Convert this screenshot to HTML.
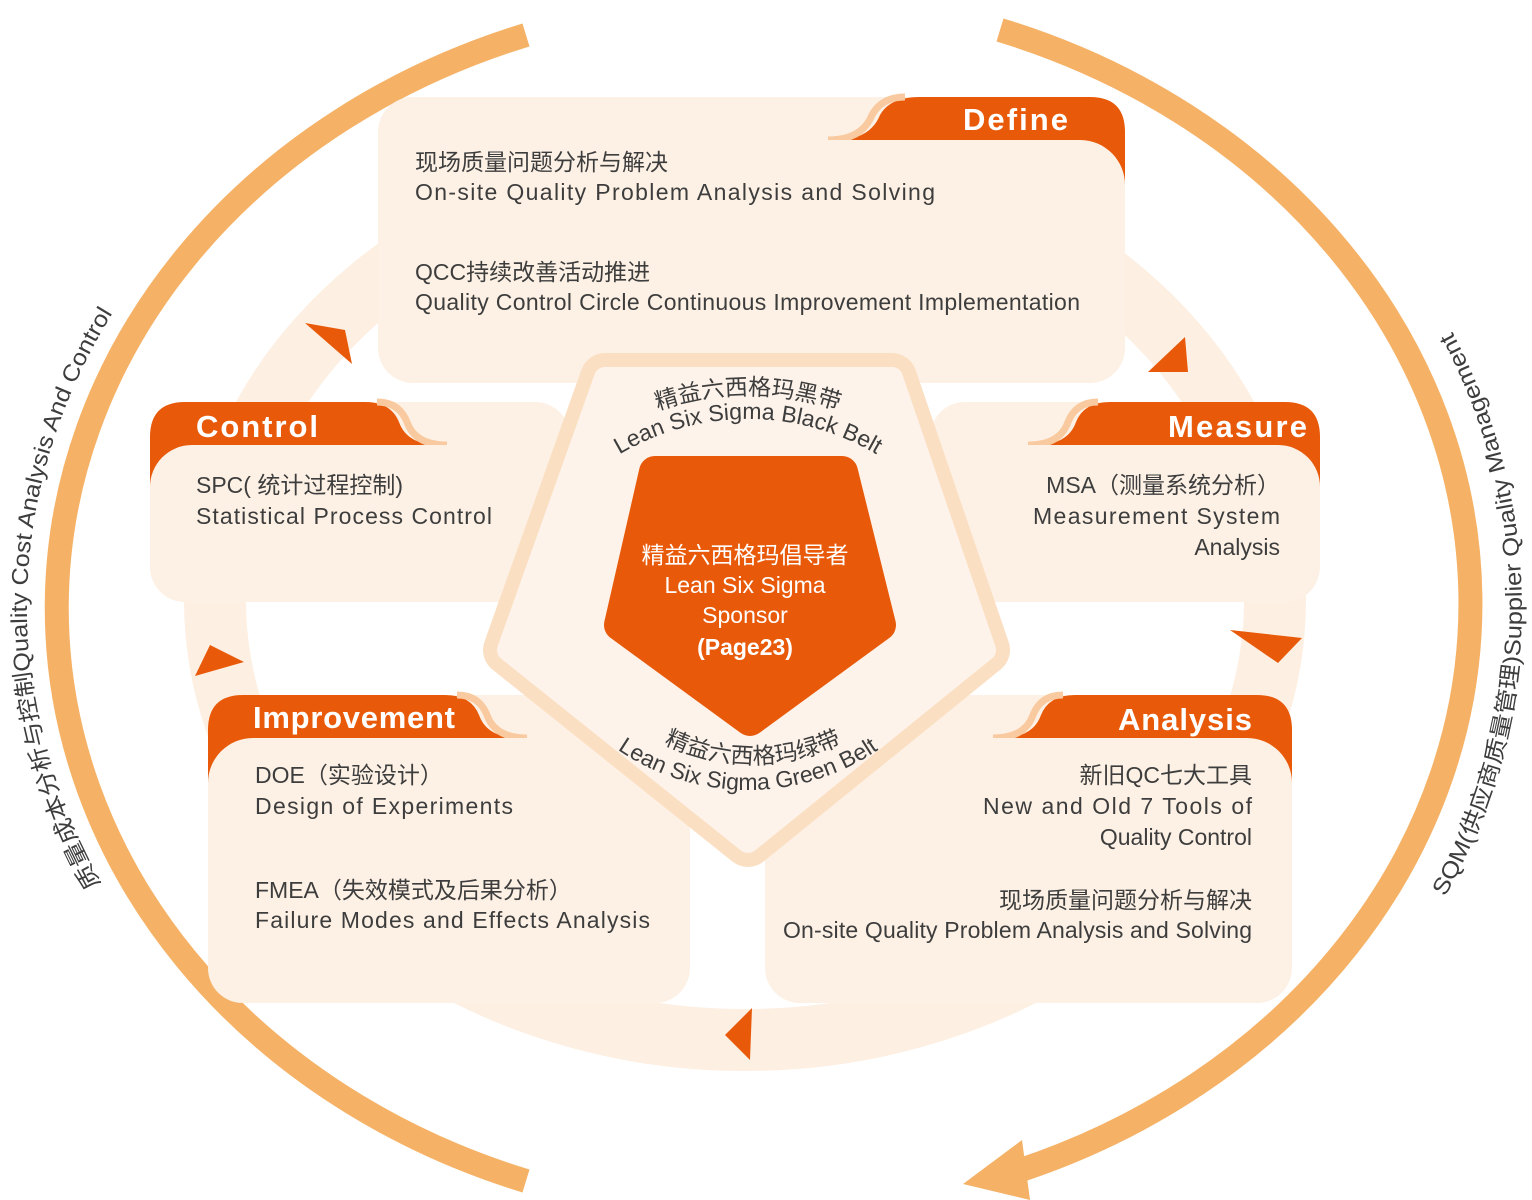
<!DOCTYPE html>
<html><head><meta charset="utf-8"><style>
html,body{margin:0;padding:0;background:#fff;}
svg{display:block;}
.t{font-family:"Liberation Sans","Noto Sans CJK SC",sans-serif;fill:#3d3d3d;font-size:23px;}
.h{font-family:"Liberation Sans","Noto Sans CJK SC",sans-serif;fill:#fff;font-size:31px;font-weight:bold;}
.w{font-family:"Liberation Sans","Noto Sans CJK SC",sans-serif;fill:#fff;font-size:23px;}
</style></head><body>
<svg width="1532" height="1200" viewBox="0 0 1532 1200" xmlns="http://www.w3.org/2000/svg">
<defs>
<path id="lp" d="M 101 884 A 735 630 0 0 1 139 274"/>
<path id="rp" d="M 1445 897 A 760 660 0 0 0 1433 298"/>
<path id="bk1" d="M 473 670 A 275 275 0 0 1 1023 670"/>
<path id="bk2" d="M 497 670 A 251 251 0 0 1 999 670"/>
<path id="gr1" d="M 548 559 A 205 205 0 0 0 958 559"/>
<path id="gr2" d="M 517 559 A 231 231 0 0 0 979 559"/>
</defs>

<!-- outer arcs -->
<path d="M 526 35 A 705 608 0 0 0 526 1181" fill="none" stroke="#f5b266" stroke-width="24"/>
<path d="M 1000 30 A 705 608 0 0 1 1015 1172" fill="none" stroke="#f5b266" stroke-width="24"/>
<polygon points="963,1184 1022,1140 1030,1200" fill="#f5b266"/>

<text class="t" font-size="24"><textPath href="#lp" textLength="600" lengthAdjust="spacingAndGlyphs">质量成本分析与控制Quality Cost Analysis And Control</textPath></text>
<text class="t" font-size="24"><textPath href="#rp" textLength="590" lengthAdjust="spacingAndGlyphs">SQM(供应商质量管理)Supplier Quality Management</textPath></text>

<!-- connector ring -->
<ellipse cx="745" cy="600" rx="530" ry="440" fill="none" stroke="#fdefe2" stroke-width="62"/>

<!-- Define box -->
<rect x="378" y="97" width="747" height="286" rx="35" fill="#fdf1e5"/>
<path d="M 835 140 Q 870 140 880 115 Q 890 97 920 97 L 1090 97 Q 1125 97 1125 132 L 1125 190 L 835 190 Z" fill="#e85a0a"/>
<path d="M 828 140 Q 862 140 872 115 Q 882 97 905 97" fill="none" stroke="#f9caa0" stroke-width="7"/>
<rect x="378" y="140" width="747" height="243" rx="45" fill="#fdf1e5"/>
<text class="h" x="963" y="130" textLength="105">Define</text>
<text class="t" x="415" y="170">现场质量问题分析与解决</text>
<text class="t" x="415" y="200" textLength="520">On-site Quality Problem Analysis and Solving</text>
<text class="t" x="415" y="280">QCC持续改善活动推进</text>
<text class="t" x="415" y="310" textLength="665">Quality Control Circle Continuous Improvement Implementation</text>

<!-- Measure box -->
<rect x="930" y="402" width="390" height="200" rx="35" fill="#fdf1e5"/>
<path d="M 1035 445 Q 1068 445 1076 422 Q 1084 402 1110 402 L 1285 402 Q 1320 402 1320 437 L 1320 490 L 1035 490 Z" fill="#e85a0a"/>
<path d="M 1028 445 Q 1060 445 1068 422 Q 1076 402 1098 402" fill="none" stroke="#f9caa0" stroke-width="7"/>
<rect x="930" y="445" width="390" height="157" rx="42" fill="#fdf1e5"/>
<text class="h" x="1168" y="437" textLength="139">Measure</text>
<text class="t" x="1280" y="493" text-anchor="end">MSA（测量系统分析）</text>
<text class="t" x="1033" y="524" textLength="247">Measurement System</text>
<text class="t" x="1280" y="555" text-anchor="end">Analysis</text>

<!-- Control box -->
<rect x="150" y="402" width="420" height="200" rx="35" fill="#fdf1e5"/>
<path d="M 440 445 Q 407 445 399 422 Q 391 402 365 402 L 185 402 Q 150 402 150 437 L 150 490 L 440 490 Z" fill="#e85a0a"/>
<path d="M 447 445 Q 415 445 407 422 Q 399 402 377 402" fill="none" stroke="#f9caa0" stroke-width="7"/>
<rect x="150" y="445" width="420" height="157" rx="42" fill="#fdf1e5"/>
<text class="h" x="196" y="437" textLength="122">Control</text>
<text class="t" x="196" y="493">SPC( 统计过程控制)</text>
<text class="t" x="196" y="524" textLength="296">Statistical Process Control</text>

<!-- Improvement box -->
<rect x="208" y="695" width="482" height="308" rx="35" fill="#fdf1e5"/>
<path d="M 520 738 Q 487 738 479 715 Q 471 695 445 695 L 243 695 Q 208 695 208 730 L 208 785 L 520 785 Z" fill="#e85a0a"/>
<path d="M 527 738 Q 495 738 487 715 Q 479 695 457 695" fill="none" stroke="#f9caa0" stroke-width="7"/>
<rect x="208" y="738" width="482" height="265" rx="45" fill="#fdf1e5"/>
<text class="h" x="253" y="728" textLength="202">Improvement</text>
<text class="t" x="255" y="783">DOE（实验设计）</text>
<text class="t" x="255" y="814" textLength="258">Design of Experiments</text>
<text class="t" x="255" y="898">FMEA（失效模式及后果分析）</text>
<text class="t" x="255" y="928" textLength="395">Failure Modes and Effects Analysis</text>

<!-- Analysis box -->
<rect x="765" y="695" width="527" height="308" rx="35" fill="#fdf1e5"/>
<path d="M 1000 738 Q 1033 738 1041 715 Q 1049 695 1075 695 L 1257 695 Q 1292 695 1292 730 L 1292 785 L 1000 785 Z" fill="#e85a0a"/>
<path d="M 993 738 Q 1025 738 1033 715 Q 1041 695 1063 695" fill="none" stroke="#f9caa0" stroke-width="7"/>
<rect x="765" y="738" width="527" height="265" rx="45" fill="#fdf1e5"/>
<text class="h" x="1118" y="730" textLength="134">Analysis</text>
<text class="t" x="1252" y="783" text-anchor="end">新旧QC七大工具</text>
<text class="t" x="983" y="814" textLength="269">New and Old 7 Tools of</text>
<text class="t" x="1252" y="845" text-anchor="end">Quality Control</text>
<text class="t" x="1252" y="908" text-anchor="end">现场质量问题分析与解决</text>
<text class="t" x="783" y="938" textLength="469">On-site Quality Problem Analysis and Solving</text>

<!-- triangles -->
<polygon points="305,323 345,330 352,364" fill="#e85a0a"/>
<polygon points="1148,372 1185,337 1188,372" fill="#e85a0a"/>
<polygon points="1230,630 1302,638 1278,663" fill="#e85a0a"/>
<polygon points="725,1035 752,1008 750,1060" fill="#e85a0a"/>
<polygon points="195,676 210,645 244,662" fill="#e85a0a"/>

<!-- pentagon -->
<polygon points="605,378 892,378 985,650 748,842 508,650" fill="#fbdfc3" stroke="#fbdfc3" stroke-width="50" stroke-linejoin="round"/>
<polygon points="605,378 892,378 985,650 748,842 508,650" fill="#fdf3ea" stroke="#fdf3ea" stroke-width="22" stroke-linejoin="round"/>
<polygon points="655,472 842,472 880,625 750,720 620,625" fill="#e85a0a" stroke="#e85a0a" stroke-width="32" stroke-linejoin="round"/>

<text class="t" font-size="25"><textPath href="#bk1" startOffset="50%" text-anchor="middle">精益六西格玛黑带</textPath></text>
<text class="t" font-size="27"><textPath href="#bk2" startOffset="50%" text-anchor="middle">Lean Six Sigma Black Belt</textPath></text>
<text class="t" font-size="24"><textPath href="#gr1" startOffset="50%" text-anchor="middle">精益六西格玛绿带</textPath></text>
<text class="t" font-size="26"><textPath href="#gr2" startOffset="50%" text-anchor="middle">Lean Six Sigma Green Belt</textPath></text>

<text class="w" x="745" y="563" text-anchor="middle">精益六西格玛倡导者</text>
<text class="w" x="745" y="593" text-anchor="middle">Lean Six Sigma</text>
<text class="w" x="745" y="623" text-anchor="middle">Sponsor</text>
<text class="w" x="745" y="655" text-anchor="middle" font-weight="bold">(Page23)</text>
</svg>
</body></html>
